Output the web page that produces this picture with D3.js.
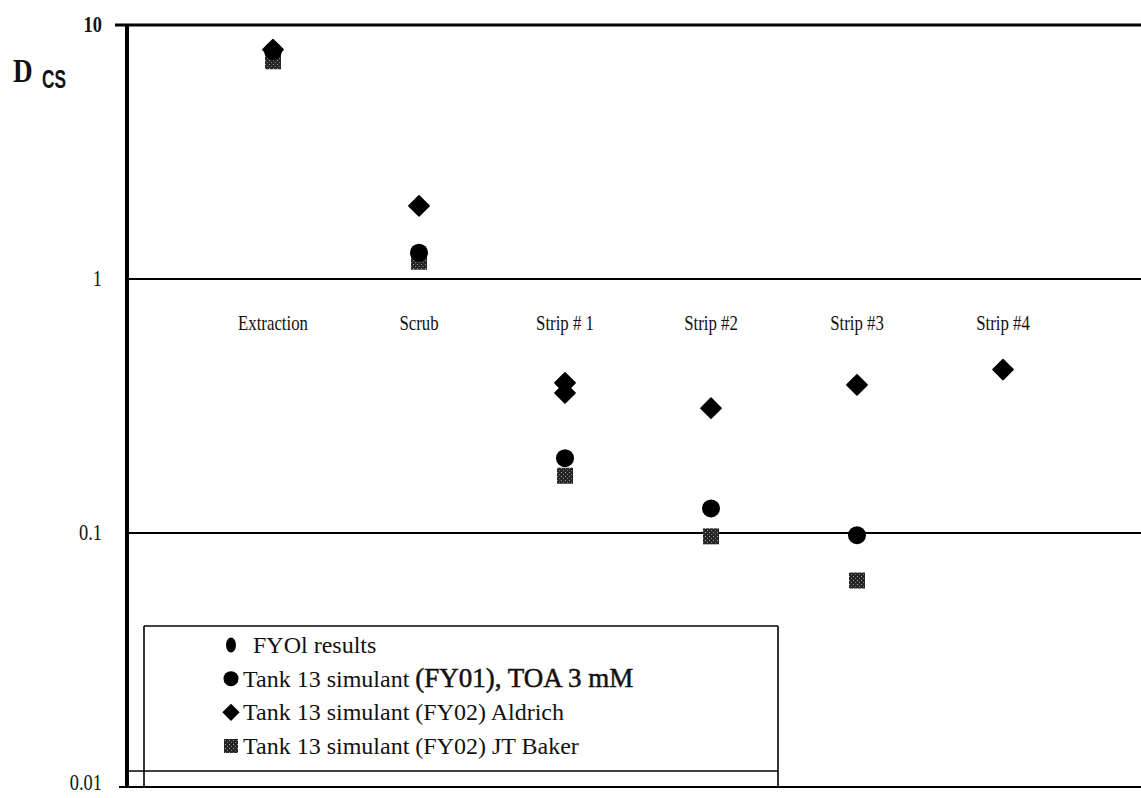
<!DOCTYPE html>
<html>
<head>
<meta charset="utf-8">
<script src="https://cdn.jsdelivr.net/npm/d3@7"></script>
<style>
  body { margin: 0; background: #fff; }
  text { font-family: "Liberation Serif", "Times New Roman", serif; fill: #111; }
</style>
</head>
<body>
<script>
// process steps along the x axis
var categories = ["Extraction", "Scrub", "Strip # 1", "Strip #2", "Strip #3", "Strip #4"];

// D_Cs, [step, value]
var fy01Circles = [["Extraction", 7.9], ["Scrub", 1.27], ["Strip # 1", 0.197], ["Strip #2", 0.125], ["Strip #3", 0.098]];
var aldrichDiamonds = [["Extraction", 8.0], ["Scrub", 1.94], ["Strip # 1", 0.39], ["Strip # 1", 0.356], ["Strip #2", 0.31], ["Strip #3", 0.383], ["Strip #4", 0.44]];
var bakerSquares = [["Extraction", 7.2], ["Scrub", 1.17], ["Strip # 1", 0.168], ["Strip #2", 0.097], ["Strip #3", 0.065]];

var yTicks = [10, 1, 0.1, 0.01];
var tickText = ["10", "1", "0.1", "0.01"];

var legendShapes = ["ellipse", "circle", "diamond", "square"];
var legendLabels = ["FYOl results", "Tank 13 simulant |(FY01), TOA 3 mM", "Tank 13 simulant (FY02) Aldrich", "Tank 13 simulant (FY02) JT Baker"];

var W = 1141, H = 798;
var svg = d3.select("body").append("svg").attr("width", W).attr("height", H);

// the scan looks squeezed sideways, so text is narrowed a little
function label(x, y, str, size, anchor, weight, sq) {
  var g = svg.append("g").attr("transform", "translate(" + x + "," + y + ") scale(" + (sq || 0.8) + ",1)");
  return g.append("text")
    .attr("text-anchor", anchor || "start")
    .style("font-size", size + "px")
    .style("font-weight", weight || "normal")
    .text(str);
}

//scales: log y, x steps spaced evenly from the axis
var y = d3.scaleLog().domain([0.01, 10]).range([787, 25]);
var x = d3.scaleLinear().domain([0, 7]).range([127, 1149]);
function xc(name) { return x(categories.indexOf(name) + 1); }

// grid lines at each decade
svg.selectAll(".grid")
  .data(yTicks)
  .enter().append("line")
  .attr("x1", function(d) { return d == 10 ? 115 : (d == 0.01 ? 119 : 127); })
  .attr("x2", W)
  .attr("y1", function(d) { return y(d); })
  .attr("y2", function(d) { return y(d); })
  .attr("stroke", "#000")
  .attr("stroke-width", function(d) { return d == 10 ? 3 : 2.2; });

// y axis, thick
svg.append("line")
  .attr("x1", 127).attr("x2", 127)
  .attr("y1", y(10)).attr("y2", y(0.01))
  .attr("stroke", "#000").attr("stroke-width", 4);

// tick labels
yTicks.forEach(function(t, i) {
  var off = t == 0.01 ? 3 : 7;
  label(102, y(t) + off, tickText[i], 23, "end", t == 10 ? "bold" : "normal");
});

// axis title D_Cs
label(13, 82, "D", 34, "start", "bold");
svg.append("text")
  .attr("x", 42).attr("y", 88)
  .attr("textLength", 24).attr("lengthAdjust", "spacingAndGlyphs")
  .style("font-family", "'Liberation Sans', Arial, sans-serif")
  .style("font-size", "25px").style("font-weight", "bold")
  .text("CS");

// step names under the 1 line
categories.forEach(function(c) {
  label(xc(c), 330, c, 21, "middle");
});

// stipple for the scanned squares
var defs = svg.append("defs");
var pat = defs.append("pattern").attr("id", "stip")
  .attr("width", 4).attr("height", 4).attr("patternUnits", "userSpaceOnUse");
pat.append("rect").attr("width", 4).attr("height", 4).attr("fill", "#262626");
pat.append("rect").attr("x", 1).attr("y", 0).attr("width", 1).attr("height", 1).attr("fill", "#9a9a9a");
pat.append("rect").attr("x", 3).attr("y", 2).attr("width", 1).attr("height", 1).attr("fill", "#777");

var sqSize = 16;
svg.selectAll(".sq")
  .data(bakerSquares)
  .enter().append("rect")
  .attr("class", "sq")
  .attr("x", function(d) { return xc(d[0]) - sqSize / 2; })
  .attr("y", function(d) { return y(d[1]) - sqSize / 2; })
  .attr("width", sqSize).attr("height", sqSize)
  .attr("fill", "url(#stip)");

svg.selectAll(".dot")
  .data(fy01Circles)
  .enter().append("circle")
  .attr("class", "dot")
  .attr("cx", function(d) { return xc(d[0]); })
  .attr("cy", function(d) { return y(d[1]); })
  .attr("r", 9)
  .attr("fill", "#000");

var diamond = d3.symbol().type(d3.symbolSquare).size(205);
svg.selectAll(".dia")
  .data(aldrichDiamonds)
  .enter().append("path")
  .attr("class", "dia")
  .attr("d", diamond)
  .attr("transform", function(d) { return "translate(" + xc(d[0]) + "," + y(d[1]) + ") rotate(45)"; })
  .attr("fill", "#000")
  .attr("stroke", "#000").attr("stroke-width", 1.5).attr("stroke-linejoin", "round");

// legend box
var lg = svg.append("g");
function ln(x1, y1, x2, y2) {
  lg.append("line").attr("x1", x1).attr("y1", y1).attr("x2", x2).attr("y2", y2)
    .attr("stroke", "#000").attr("stroke-width", 1.6);
}
ln(144, 626, 778, 626);
ln(778, 626, 778, 787);
ln(144, 626, 144, 787);
ln(129, 771, 778, 771);

var rowY = d3.scalePoint().domain(d3.range(legendLabels.length)).range([645, 746]);
legendLabels.forEach(function(txt, i) {
  var cy = rowY(i), mx = 231, shape = legendShapes[i];
  if (shape == "ellipse") {
    lg.append("ellipse").attr("cx", mx).attr("cy", cy).attr("rx", 5).attr("ry", 7.5).attr("fill", "#000");
  } else if (shape == "circle") {
    lg.append("circle").attr("cx", mx).attr("cy", cy).attr("r", 7.5).attr("fill", "#000");
  } else if (shape == "diamond") {
    lg.append("path").attr("d", d3.symbol().type(d3.symbolSquare).size(150))
      .attr("transform", "translate(" + mx + "," + cy + ") rotate(45)").attr("fill", "#000");
  } else {
    lg.append("rect").attr("x", mx - 7).attr("y", cy - 7).attr("width", 14).attr("height", 14).attr("fill", "url(#stip)");
  }
  var parts = txt.split("|");
  var t = label(i == 0 ? 253 : 243, cy + 8, parts[0], 24, "start", "normal", 1);
  if (parts[1]) {
    t.append("tspan").style("font-size", "27px")
      .style("stroke", "#111").style("stroke-width", 0.5)
      .text(parts[1]);
  }
});
</script>
</body>
</html>
